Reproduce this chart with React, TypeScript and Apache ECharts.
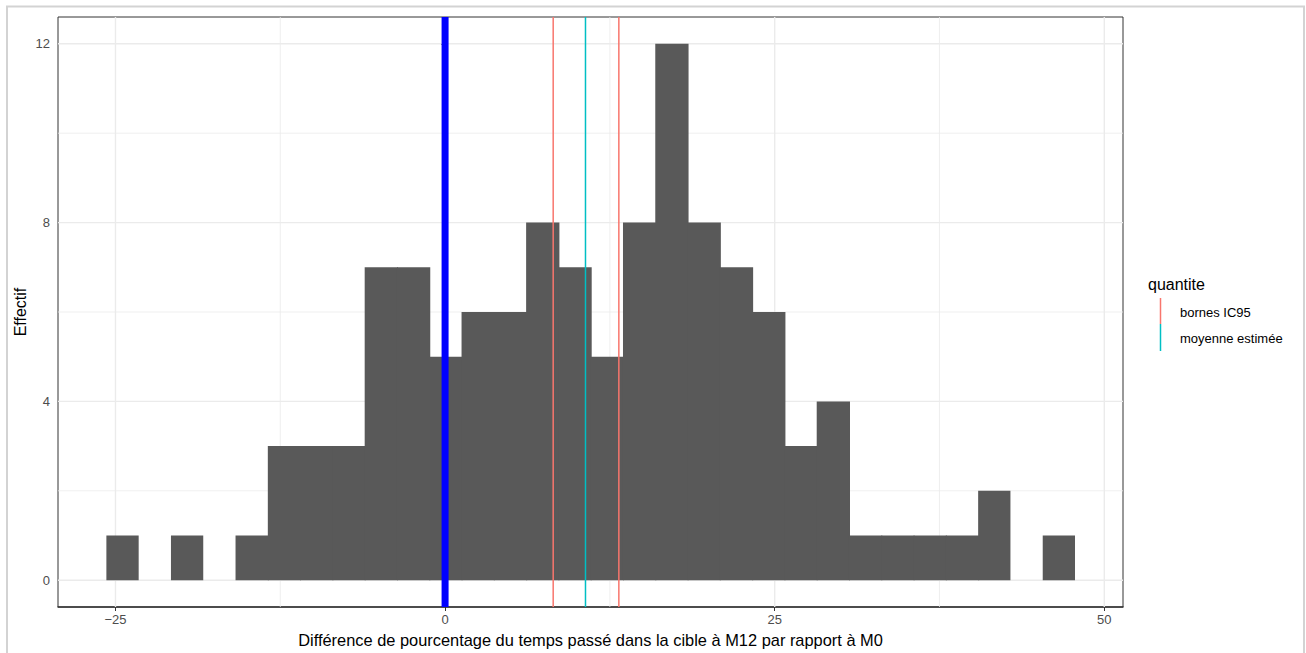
import React, { useEffect, useRef } from "react";
import * as echarts from "echarts";

// Histogram: counts per bin (30 bins of equal width)
const BIN_START = -25.69;
const BIN_WIDTH = 2.449;
const COUNTS = [1, 0, 1, 0, 1, 3, 3, 3, 7, 7, 5, 6, 6, 8, 7, 5, 8, 12, 8, 7, 6, 3, 4, 1, 1, 1, 1, 2, 0, 1];

// Reference lines
const ZERO_LINE = [0];
const CI_BOUNDS = [8.2, 13.18];
const MEAN_EST = [10.65];

// Axes
const X_MIN = -29.36;
const X_MAX = 51.42;
const Y_MIN = -0.6;
const Y_MAX = 12.6;
const X_TICKS = [-25, 0, 25, 50];
const X_MINOR = [-12.5, 12.5, 37.5];
const Y_TICKS = [0, 4, 8, 12];
const Y_MINOR = [2, 6, 10];

const X_TITLE = "Différence de pourcentage du temps passé dans la cible à M12 par rapport à M0";
const Y_TITLE = "Effectif";
const LEGEND_TITLE = "quantite";
const LEGEND_LABELS = ["bornes IC95", "moyenne estimée"];

const FONT = "'Liberation Sans', Arial, Helvetica, sans-serif";

export default function App() {
  const ref = useRef<HTMLDivElement>(null);
  useEffect(() => {
    if (!ref.current) return;
    const chart = echarts.init(ref.current, undefined, { renderer: "svg" });

    const bins = COUNTS.map((c, i) => [BIN_START + i * BIN_WIDTH, BIN_START + (i + 1) * BIN_WIDTH, c, COUNTS[i + 1] || 0]).filter(
      (b) => b[2] > 0
    );

    const vLineSeries = (name: string, xs: number[], color: string, width: number, z: number) => ({
      type: "custom",
      name,
      clip: true,
      z,
      silent: true,
      data: xs.map((x) => [x]),
      renderItem: (params: any, api: any) => {
        const x = api.value(0);
        const p1 = api.coord([x, Y_MIN]);
        const p2 = api.coord([x, Y_MAX]);
        return {
          type: "line",
          shape: { x1: p1[0], y1: p1[1], x2: p2[0], y2: p2[1] },
          style: { stroke: color, lineWidth: width },
        };
      },
    });

    const hLineSeries = (name: string, ys: number[], color: string, width: number, z: number) => ({
      type: "custom",
      name,
      clip: true,
      z,
      silent: true,
      data: ys.map((y) => [y]),
      renderItem: (params: any, api: any) => {
        const y = api.value(0);
        const p1 = api.coord([X_MIN, y]);
        const p2 = api.coord([X_MAX, y]);
        return {
          type: "line",
          shape: { x1: p1[0], y1: p1[1], x2: p2[0], y2: p2[1] },
          style: { stroke: color, lineWidth: width },
        };
      },
    });

    const option: any = {
      animation: false,
      textStyle: { fontFamily: FONT },
      grid: {
        left: 58,
        top: 17,
        width: 1065,
        height: 591,
        show: true,
        borderColor: "#333333",
        borderWidth: 1,
        backgroundColor: "transparent",
      },
      xAxis: {
        type: "value",
        min: X_MIN,
        max: X_MAX,
        name: X_TITLE,
        nameLocation: "middle",
        nameGap: 25,
        nameMoveOverlap: false,
        nameTextStyle: { color: "#000000", fontSize: 16.4, fontFamily: FONT },
        axisLine: { show: true, onZero: false, lineStyle: { color: "#333333", width: 1.5 } },
        axisTick: { show: true, length: 4, customValues: X_TICKS, lineStyle: { color: "#333333" } },
        axisLabel: {
          show: true,
          customValues: X_TICKS,
          margin: 6,
          fontSize: 13,
          color: "#4D4D4D",
          fontFamily: FONT,
          formatter: (v: number) => (v < 0 ? "\u2212" + Math.abs(v) : String(v)),
        },
        splitLine: { show: false },
      },
      yAxis: {
        type: "value",
        min: Y_MIN,
        max: Y_MAX,
        name: Y_TITLE,
        nameLocation: "middle",
        nameGap: 30,
        nameMoveOverlap: false,
        nameTextStyle: { color: "#000000", fontSize: 16, fontFamily: FONT },
        axisLine: { show: false },
        axisTick: { show: true, length: 4, customValues: Y_TICKS, lineStyle: { color: "#333333" } },
        axisLabel: {
          show: true,
          customValues: Y_TICKS,
          margin: 8,
          fontSize: 13,
          color: "#4D4D4D",
          fontFamily: FONT,
        },
        splitLine: { show: false },
      },
      series: [
        hLineSeries("gridMinorY", Y_MINOR, "#EBEBEB", 0.8, 1),
        vLineSeries("gridMinorX", X_MINOR, "#EBEBEB", 0.8, 1),
        hLineSeries("gridMajorY", Y_TICKS, "#EBEBEB", 1.4, 1),
        vLineSeries("gridMajorX", X_TICKS, "#EBEBEB", 1.4, 1),
        {
          type: "custom",
          name: "histogram",
          clip: true,
          z: 2,
          silent: true,
          data: bins,
          renderItem: (params: any, api: any) => {
            const p0 = api.coord([api.value(0), 0]);
            const p1 = api.coord([api.value(1), api.value(2)]);
            // overlap into the next bar slightly to hide anti-aliasing seams
            const overlap = api.value(3) > 0 ? 1 : 0;
            return {
              type: "rect",
              shape: { x: p0[0], y: p1[1], width: p1[0] - p0[0] + overlap, height: p0[1] - p1[1] },
              style: { fill: "#595959" },
            };
          },
        },
        vLineSeries("zero", ZERO_LINE, "#0000FF", 7, 3),
        vLineSeries("bornes IC95", CI_BOUNDS, "#F8766D", 1.5, 4),
        vLineSeries("moyenne estimée", MEAN_EST, "#00BFC4", 1.5, 4),
      ],
      graphic: [
        {
          type: "rect",
          silent: true,
          shape: { x: 7, y: 6.5, width: 1297, height: 700 },
          style: { fill: "none", stroke: "#D3D3D3", lineWidth: 2 },
        },
        {
          type: "text",
          left: 1148,
          top: 276,
          style: { text: LEGEND_TITLE, fontSize: 16, fill: "#000000", fontFamily: FONT },
        },
        {
          type: "line",
          shape: { x1: 1160.5, y1: 298, x2: 1160.5, y2: 324 },
          style: { stroke: "#F8766D", lineWidth: 1.5 },
        },
        {
          type: "line",
          shape: { x1: 1160.5, y1: 324, x2: 1160.5, y2: 351 },
          style: { stroke: "#00BFC4", lineWidth: 1.5 },
        },
        {
          type: "text",
          left: 1180,
          top: 306,
          style: { text: LEGEND_LABELS[0], fontSize: 13, fill: "#000000", fontFamily: FONT },
        },
        {
          type: "text",
          left: 1180,
          top: 332,
          style: { text: LEGEND_LABELS[1], fontSize: 13, fill: "#000000", fontFamily: FONT },
        },
      ],
    };
    chart.setOption(option);
    return () => chart.dispose();
  }, []);
  return (
    <div
      ref={ref}
      style={{ position: "fixed", left: 0, top: 0, width: 1306, height: 653, background: "#ffffff" }}
    />
  );
}
